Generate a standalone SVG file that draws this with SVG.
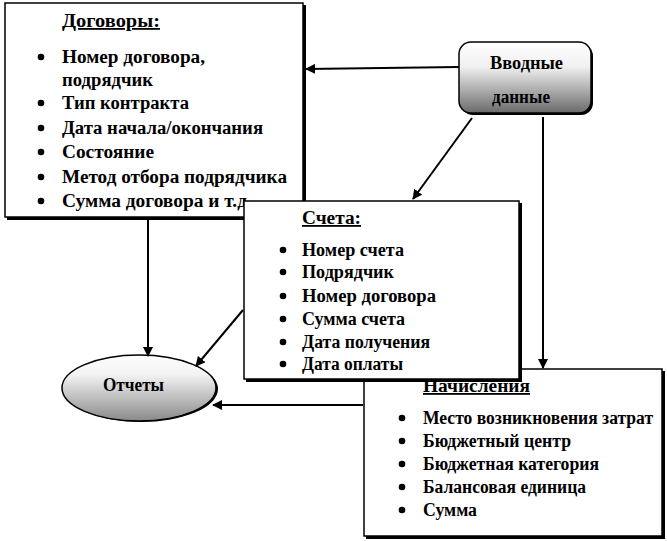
<svg xmlns="http://www.w3.org/2000/svg" width="667" height="541" viewBox="0 0 667 541">
<style>
.t{font-family:"Liberation Serif","Times New Roman",serif;font-weight:bold;font-size:18px;fill:#000}
.h{text-decoration:underline}
.box{fill:#fff;stroke:#000;stroke-width:1.5}
.sh{fill:#000}
.ln{stroke:#000;stroke-width:2;fill:none}
</style>
<defs>
<marker id="ah" viewBox="0 0 10 10" refX="9" refY="5" markerWidth="5" markerHeight="5" orient="auto" markerUnits="strokeWidth">
<path d="M0,0 L10,5 L0,10 z" fill="#000"/>
</marker>
<linearGradient id="g1" x1="0" y1="0" x2="0" y2="1">
<stop offset="0" stop-color="#ffffff"/>
<stop offset="0.35" stop-color="#f0f0f0"/>
<stop offset="1" stop-color="#6a6a6a"/>
</linearGradient>
<linearGradient id="g2" x1="0" y1="0" x2="0" y2="1">
<stop offset="0" stop-color="#ffffff"/>
<stop offset="0.3" stop-color="#f2f2f2"/>
<stop offset="1" stop-color="#8a8a8a"/>
</linearGradient>
<circle id="b" r="3.3" fill="#000"/>
</defs>

<g id="dogovory">
<rect class="sh" x="7" y="5" width="299" height="215"/>
<rect class="box" x="5" y="3" width="298" height="214"/>
<text class="t h" x="62" y="27" textLength="98" lengthAdjust="spacingAndGlyphs">Договоры:</text>
<use href="#b" x="41" y="57"/><text class="t" x="62" y="63" textLength="143" lengthAdjust="spacingAndGlyphs">Номер договора,</text>
<text class="t" x="62" y="86" textLength="91" lengthAdjust="spacingAndGlyphs">подрядчик</text>
<use href="#b" x="41" y="103"/><text class="t" x="62" y="109" textLength="127" lengthAdjust="spacingAndGlyphs">Тип контракта</text>
<use href="#b" x="41" y="128"/><text class="t" x="62" y="134" textLength="201" lengthAdjust="spacingAndGlyphs">Дата начала/окончания</text>
<use href="#b" x="41" y="152"/><text class="t" x="62" y="158" textLength="92" lengthAdjust="spacingAndGlyphs">Состояние</text>
<use href="#b" x="41" y="177"/><text class="t" x="62" y="183" textLength="225" lengthAdjust="spacingAndGlyphs">Метод отбора подрядчика</text>
<use href="#b" x="41" y="201"/><text class="t" x="62" y="207" textLength="185" lengthAdjust="spacingAndGlyphs">Сумма договора и т.д</text>
</g>

<g id="vvodnye">
<rect x="461" y="44" width="132" height="71" rx="12" fill="#000"/>
<rect x="459" y="42" width="132" height="71" rx="12" fill="url(#g1)" stroke="#000" stroke-width="1.5"/>
<text class="t" x="490" y="69" textLength="73" lengthAdjust="spacingAndGlyphs">Вводные</text>
<text class="t" x="492" y="103" textLength="58" lengthAdjust="spacingAndGlyphs">данные</text>
</g>

<g id="nachisleniya">
<rect class="sh" x="366" y="371" width="299" height="168"/>
<rect class="box" x="364" y="369" width="298" height="167"/>
<text class="t h" x="423" y="392" textLength="107" lengthAdjust="spacingAndGlyphs">Начисления</text>
<use href="#b" x="402" y="418"/><text class="t" x="423" y="424" textLength="230" lengthAdjust="spacingAndGlyphs">Место возникновения затрат</text>
<use href="#b" x="402" y="441"/><text class="t" x="423" y="447" textLength="148" lengthAdjust="spacingAndGlyphs">Бюджетный центр</text>
<use href="#b" x="402" y="464"/><text class="t" x="423" y="470" textLength="176" lengthAdjust="spacingAndGlyphs">Бюджетная категория</text>
<use href="#b" x="402" y="487"/><text class="t" x="423" y="493" textLength="163" lengthAdjust="spacingAndGlyphs">Балансовая единица</text>
<use href="#b" x="402" y="510"/><text class="t" x="423" y="516" textLength="54" lengthAdjust="spacingAndGlyphs">Сумма</text>
</g>

<g id="scheta">
<rect class="sh" x="246" y="203" width="276" height="179"/>
<rect class="box" x="244" y="201" width="275" height="178"/>
<text class="t h" x="302" y="224" textLength="59" lengthAdjust="spacingAndGlyphs">Счета:</text>
<use href="#b" x="283" y="250"/><text class="t" x="302" y="256" textLength="102" lengthAdjust="spacingAndGlyphs">Номер счета</text>
<use href="#b" x="283" y="272"/><text class="t" x="302" y="278" textLength="92" lengthAdjust="spacingAndGlyphs">Подрядчик</text>
<use href="#b" x="283" y="296"/><text class="t" x="302" y="302" textLength="134" lengthAdjust="spacingAndGlyphs">Номер договора</text>
<use href="#b" x="283" y="319"/><text class="t" x="302" y="325" textLength="103" lengthAdjust="spacingAndGlyphs">Сумма счета</text>
<use href="#b" x="283" y="342"/><text class="t" x="302" y="348" textLength="128" lengthAdjust="spacingAndGlyphs">Дата получения</text>
<use href="#b" x="283" y="364"/><text class="t" x="302" y="370" textLength="101" lengthAdjust="spacingAndGlyphs">Дата оплаты</text>
</g>

<g id="otchety">
<ellipse cx="141" cy="389" rx="77" ry="33" fill="#000"/>
<ellipse cx="139" cy="388" rx="77" ry="33" fill="url(#g2)" stroke="#000" stroke-width="1.5"/>
<text class="t" x="103" y="391" textLength="61" lengthAdjust="spacingAndGlyphs">Отчеты</text>
</g>

<g id="connectors">
<line class="ln" x1="459" y1="67" x2="306" y2="69" marker-end="url(#ah)"/>
<line class="ln" x1="472" y1="118" x2="413" y2="199" marker-end="url(#ah)"/>
<line class="ln" x1="543" y1="117" x2="543" y2="368" marker-end="url(#ah)"/>
<line class="ln" x1="148" y1="220" x2="148" y2="356" marker-end="url(#ah)"/>
<line class="ln" x1="243" y1="310" x2="196" y2="366" marker-end="url(#ah)"/>
<line class="ln" x1="363" y1="405" x2="213" y2="405" marker-end="url(#ah)"/>
</g>
</svg>
